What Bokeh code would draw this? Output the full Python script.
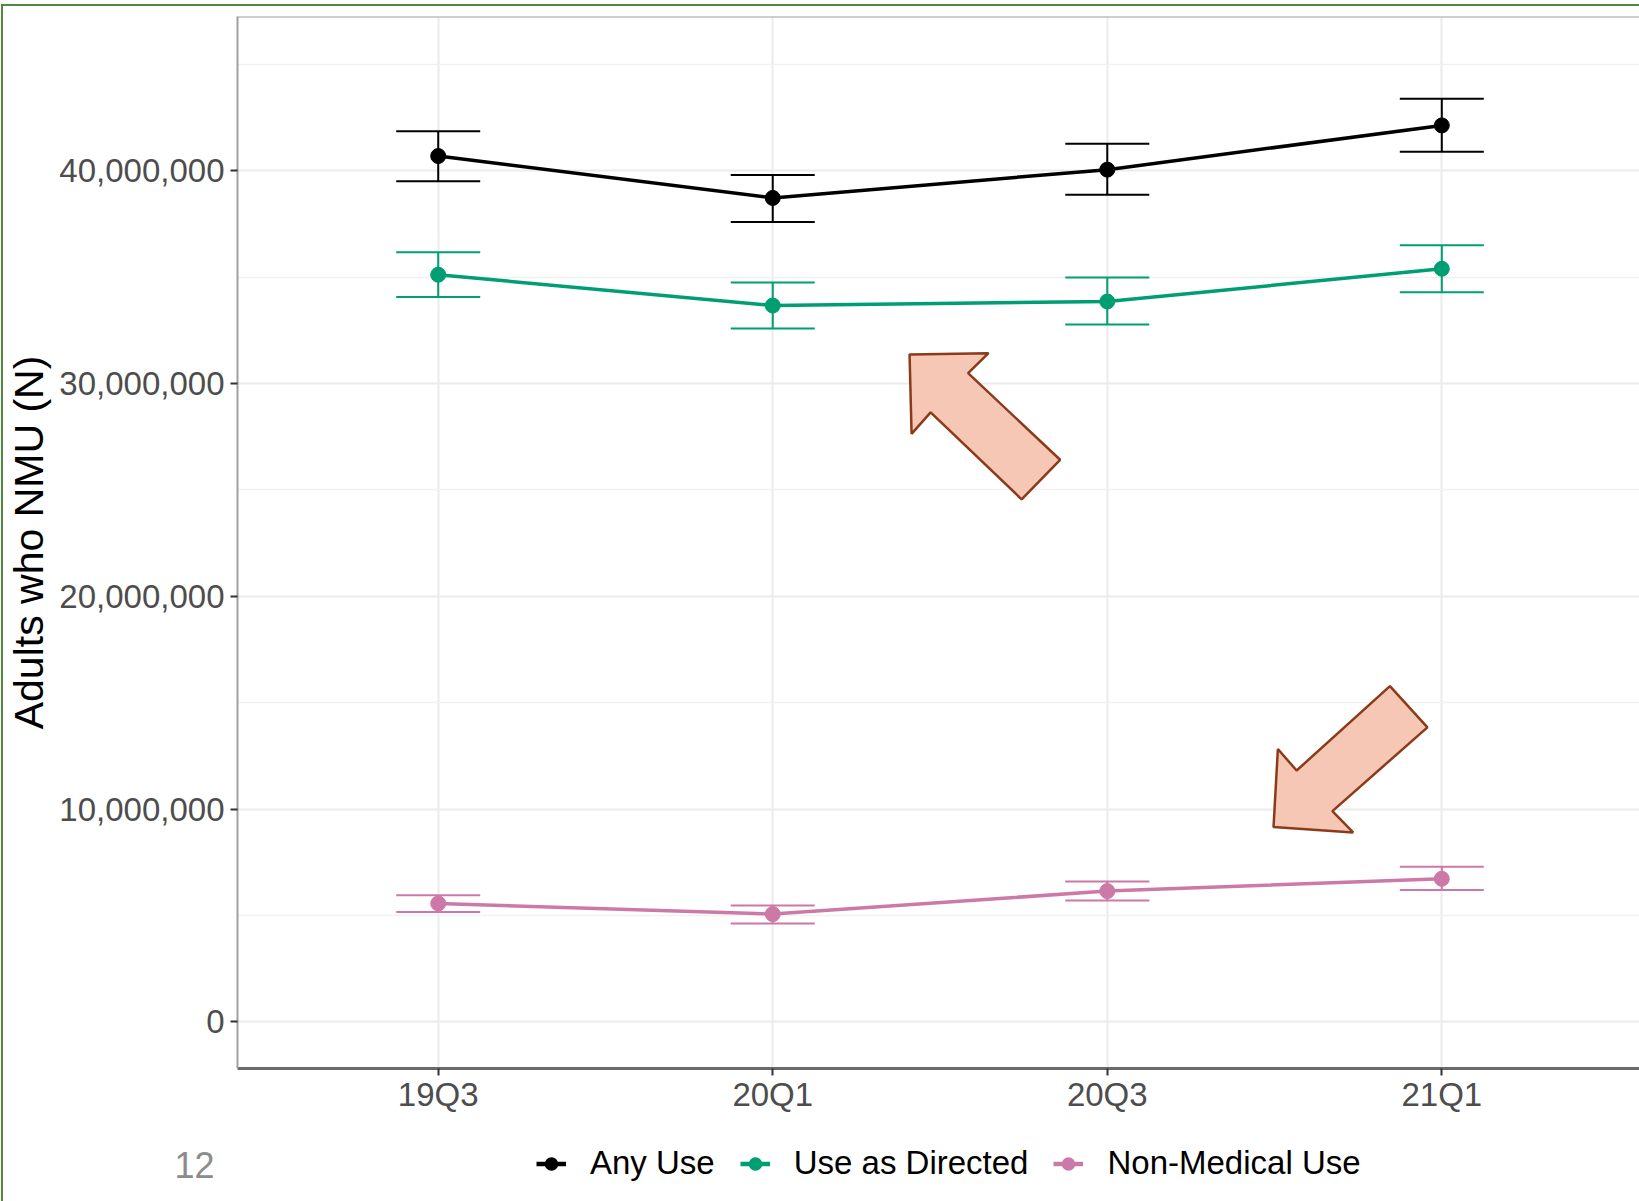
from bokeh.plotting import figure
from bokeh.layouts import column
from bokeh.models import (ColumnDataSource, Range1d, FixedTicker, NumeralTickFormatter,
                          Whisker, TeeHead, Legend, LegendItem, Span, InlineStyleSheet)
from bokeh.embed import file_html
from bokeh.resources import INLINE

# ---------------- data ----------------
categories = ["19Q3", "20Q1", "20Q3", "21Q1"]
series_names = ["Any Use", "Use as Directed", "Non-Medical Use"]

any_use = [40.70e6, 38.73e6, 40.06e6, 42.14e6]
any_use_lo = [39.52e6, 37.60e6, 38.88e6, 40.90e6]
any_use_hi = [41.87e6, 39.81e6, 41.28e6, 43.39e6]

directed = [35.12e6, 33.67e6, 33.86e6, 35.40e6]
directed_lo = [34.07e6, 32.59e6, 32.78e6, 34.29e6]
directed_hi = [36.18e6, 34.75e6, 34.99e6, 36.50e6]

nonmed = [5.56e6, 5.06e6, 6.14e6, 6.72e6]
nonmed_lo = [5.16e6, 4.62e6, 5.70e6, 6.19e6]
nonmed_hi = [5.95e6, 5.46e6, 6.59e6, 7.29e6]

y_ticks = [0, 10e6, 20e6, 30e6, 40e6]
colors = ["#000000", "#009E73", "#CC79A7"]

# annotation arrows (data units)
arrow_up_x = [2.409, 2.645, 2.584, 2.859, 2.744, 2.472, 2.415]
arrow_up_y = [31.37e6, 31.43e6, 30.49e6, 26.42e6, 24.56e6, 28.65e6, 27.64e6]
arrow_down_x = [3.497, 3.735, 3.673, 3.957, 3.845, 3.566, 3.510]
arrow_down_y = [9.15e6, 8.90e6, 9.90e6, 13.84e6, 15.78e6, 11.81e6, 12.82e6]

page_number = "12"

FONT = "Liberation Sans"
GREEN = "#4E8B3E"
xs = [i + 1 for i in range(len(categories))]

W = 1639
p = figure(width=W, height=1118, output_backend="svg", toolbar_location=None,
           x_range=Range1d(0.4, 4.591), y_range=Range1d(-2.2e6, 47.26e6),
           min_border_left=237, min_border_right=0, min_border_top=16,
           min_border_bottom=50)
p.outline_line_color = None
p.background_fill_color = "white"
p.border_fill_color = None
p.stylesheets = [InlineStyleSheet(css=(
    ":host { box-shadow: inset 1px 0 0 0 #ffffff, inset 0 4px 0 0 #ffffff, "
    f"inset 3px 0 0 0 {GREEN}, inset 0 6px 0 0 {GREEN}; }}"))]

# grids
p.xgrid.grid_line_color = "#EBEBEB"
p.xgrid.grid_line_width = 2
p.ygrid.grid_line_color = "#EBEBEB"
p.ygrid.grid_line_width = 2
p.ygrid.minor_grid_line_color = "#F1F1F1"
p.ygrid.minor_grid_line_width = 1.5

# axes
p.xaxis.ticker = FixedTicker(ticks=xs)
p.xaxis.major_label_overrides = {x: c for x, c in zip(xs, categories)}
p.yaxis.ticker = FixedTicker(ticks=y_ticks, minor_ticks=[t + 5e6 for t in y_ticks])
p.yaxis.formatter = NumeralTickFormatter(format="0,0")

for ax in (p.xaxis, p.yaxis):
    ax.major_label_text_font = FONT
    ax.major_label_text_font_size = "33px"
    ax.major_label_text_color = "#4D4D4D"
    ax.major_tick_in = 0
    ax.major_tick_out = 7
    ax.major_tick_line_color = "#333333"
    ax.major_tick_line_width = 2
    ax.minor_tick_line_color = None

p.xaxis.axis_line_color = "#6A6A6A"
p.xaxis.axis_line_width = 3
p.xaxis.major_label_standoff = 0
p.yaxis.axis_line_color = "#A0A0A0"
p.yaxis.axis_line_width = 2
p.yaxis.major_label_standoff = 6

p.yaxis.axis_label = "Adults who NMU (N)"
p.yaxis.axis_label_text_font = FONT
p.yaxis.axis_label_text_font_size = "41px"
p.yaxis.axis_label_text_font_style = "normal"
p.yaxis.axis_label_text_color = "#000000"
p.yaxis.axis_label_standoff = 4

p.add_layout(Span(location=47.26e6, dimension="width", line_color="#A0A0A0", line_width=2))

# series
series = [
    (any_use, any_use_lo, any_use_hi),
    (directed, directed_lo, directed_hi),
    (nonmed, nonmed_lo, nonmed_hi),
]
for name, color, (vals, lo, hi) in zip(series_names, colors, series):
    src = ColumnDataSource(dict(x=xs, y=vals, lower=lo, upper=hi))
    w = Whisker(base="x", upper="upper", lower="lower", source=src,
                line_color=color, line_width=2,
                upper_head=TeeHead(size=84, line_color=color, line_width=2),
                lower_head=TeeHead(size=84, line_color=color, line_width=2))
    p.add_layout(w)
    p.line("x", "y", source=src, line_color=color, line_width=3.5)
    p.scatter("x", "y", source=src, size=15, fill_color=color, line_color=color)

# arrows
p.patches([arrow_up_x, arrow_down_x], [arrow_up_y, arrow_down_y],
          fill_color="#F5C7B4", line_color="#8B3A1A", line_width=2.5)

# ---------------- legend strip (with slide page number) ----------------
H2 = 83
p2 = figure(width=W, height=H2, output_backend="svg", toolbar_location=None,
            x_range=Range1d(0, 1), y_range=Range1d(0, H2),
            x_axis_location=None, y_axis_location="left",
            min_border_left=237, min_border_right=0, min_border_top=0, min_border_bottom=0)
p2.grid.visible = False
p2.outline_line_color = None
p2.background_fill_color = None
p2.border_fill_color = None
p2.stylesheets = [InlineStyleSheet(css=(
    f":host {{ box-shadow: inset 1px 0 0 0 #ffffff, inset 3px 0 0 0 {GREEN}; }}"))]

# page number shown as the single label of the strip's left axis
p2.yaxis.ticker = FixedTicker(ticks=[36.5])
p2.yaxis.major_label_overrides = {36.5: page_number}
p2.yaxis.axis_line_color = None
p2.yaxis.major_tick_line_color = None
p2.yaxis.minor_tick_line_color = None
p2.yaxis.major_tick_out = 0
p2.yaxis.major_tick_in = 0
p2.yaxis.major_label_standoff = 23
p2.yaxis.major_label_text_font = FONT
p2.yaxis.major_label_text_font_size = "36px"
p2.yaxis.major_label_text_color = "#8C8C8C"

nan = float("nan")
items = []
for name, color in zip(series_names, colors):
    lr = p2.line(x=[nan], y=[nan], line_color=color, line_width=4.5)
    sr = p2.scatter(x=[nan], y=[nan], size=15, fill_color=color, line_color=color,
                    line_width=1.5)
    items.append(LegendItem(label=name, renderers=[lr, sr]))

legend = Legend(items=items, orientation="horizontal", location=(299, 19),
                glyph_width=30, glyph_height=33, label_height=33,
                label_standoff=24, spacing=25,
                padding=0, margin=0, border_line_color=None, background_fill_alpha=0,
                label_text_font=FONT, label_text_font_size="33px",
                label_text_color="#000000", inactive_fill_alpha=0)
p2.add_layout(legend, "center")

layout = column(p, p2, spacing=0)
open("out.html", "w").write(file_html(layout, INLINE))
